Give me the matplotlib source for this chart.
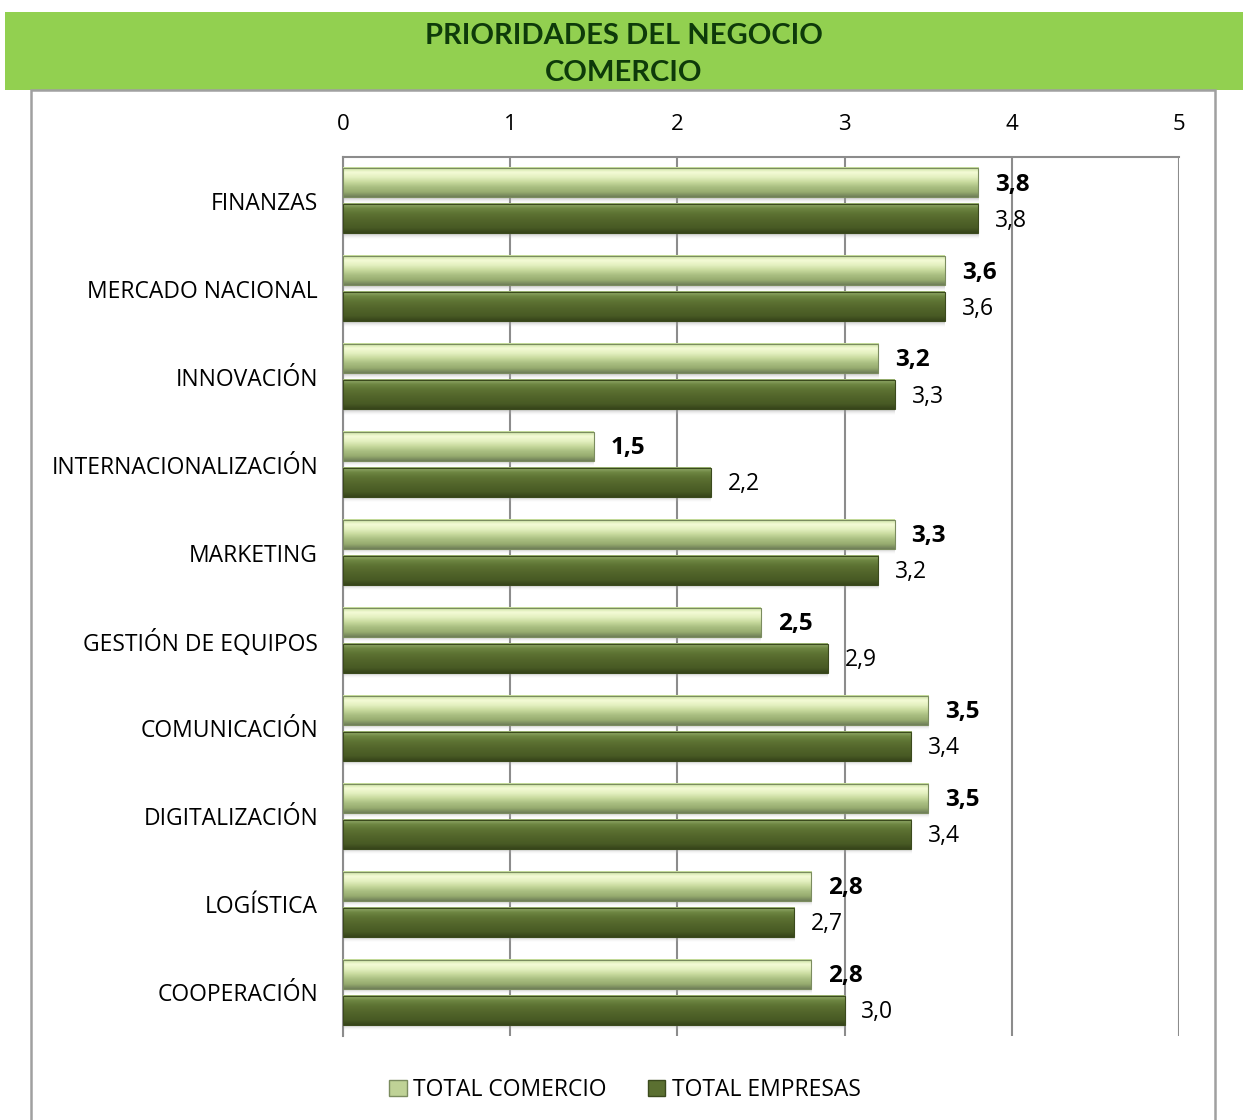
import matplotlib.pyplot as plt
import matplotlib.patches as mpatches
from matplotlib.colors import LinearSegmentedColormap
import numpy as np

categorias = ['FINANZAS', 'MERCADO NACIONAL', 'INNOVACIÓN', 'INTERNACIONALIZACIÓN',
              'MARKETING', 'GESTIÓN DE EQUIPOS', 'COMUNICACIÓN', 'DIGITALIZACIÓN',
              'LOGÍSTICA', 'COOPERACIÓN']
total_comercio = [3.8, 3.6, 3.2, 1.5, 3.3, 2.5, 3.5, 3.5, 2.8, 2.8]
total_empresas = [3.8, 3.6, 3.3, 2.2, 3.2, 2.9, 3.4, 3.4, 2.7, 3.0]
series = ['TOTAL COMERCIO', 'TOTAL EMPRESAS']

plt.rcParams['font.family'] = ['Open Sans', 'DejaVu Sans']

# degradados verticales de las barras (de arriba a abajo)
cmap_claro = LinearSegmentedColormap.from_list(
    'claro', ['#c4dc98', '#f4fbd6', '#e4f0c0', '#c8da9e', '#aabf82', '#98ad70', '#6f7f58'])
cmap_oscuro = LinearSegmentedColormap.from_list(
    'oscuro', ['#9cb474', '#6e8642', '#5e7434', '#56692d', '#4e6128', '#485a24', '#36441a'])
cmap_sombra = LinearSegmentedColormap.from_list(
    'sombra', [(0.55, 0.55, 0.55, 0.55), (0.8, 0.8, 0.8, 0.0)])

fig = plt.figure(figsize=(12.43, 11.2), dpi=100)

# banda del titulo y marco del grafico
fig.patches.append(mpatches.Rectangle((5 / 1243, 1 - 90 / 1120), 1, 78 / 1120,
                                      transform=fig.transFigure, facecolor='#92d050',
                                      edgecolor='none', zorder=-2))
fig.patches.append(mpatches.Rectangle((31 / 1243, -0.05), (1215 - 31) / 1243, 1.05 - 90 / 1120,
                                      transform=fig.transFigure, facecolor='white',
                                      edgecolor='#a0a0a0', linewidth=1.8, zorder=-1))
fig.text(0.502, 1 - 36 / 1120, 'PRIORIDADES DEL NEGOCIO', ha='center', va='center',
         fontsize=21, fontweight='bold', color='#0e3a0a', family=['Lato', 'DejaVu Sans'])
fig.text(0.502, 1 - 73 / 1120, 'COMERCIO', ha='center', va='center',
         fontsize=21, fontweight='bold', color='#0e3a0a', family=['Lato', 'DejaVu Sans'])

ax = fig.add_axes([343 / 1243, 1 - 1036 / 1120, (1179 - 343) / 1243, (1036 - 157) / 1120])
ax.set_facecolor('none')

h = 0.33
off = 0.205
sombra = 0.06
grad = np.linspace(0, 1, 64).reshape(-1, 1)
y = np.arange(len(categorias))

for i, (vc, ve) in enumerate(zip(total_comercio, total_empresas)):
    for v, yc, cmap, peso, tam in [(vc, i - off, cmap_claro, 'bold', 17.5),
                                   (ve, i + off, cmap_oscuro, 'normal', 16.5)]:
        ax.imshow(grad, extent=[0, v, yc + h / 2 + sombra, yc + h / 2], aspect='auto',
                  cmap=cmap_sombra, zorder=2, interpolation='bilinear')
        ax.imshow(grad, extent=[0, v, yc + h / 2, yc - h / 2], aspect='auto',
                  cmap=cmap, zorder=3, interpolation='bilinear')
        ax.add_patch(mpatches.Rectangle((0, yc - h / 2), v, h, facecolor='none',
                                        edgecolor=cmap(0.95), linewidth=0.8, zorder=4))
        ax.text(v + 0.1, yc + 0.02, f'{v:.1f}'.replace('.', ','), va='center', ha='left',
                fontsize=tam, fontweight=peso, color='black', zorder=5)

ax.set_xlim(0, 5)
ax.set_ylim(len(categorias) - 0.5, -0.5)
ax.set_xticks(range(6))
ax.set_yticks(y)
ax.set_yticklabels(categorias, fontsize=16.5)
ax.xaxis.tick_top()
ax.tick_params(axis='x', length=0, pad=16, labelsize=16)
ax.tick_params(axis='y', length=0, pad=18)
ax.grid(axis='x', color='#8c8c8c', linewidth=1.5, zorder=1)
ax.set_axisbelow(True)
for lado in ['bottom', 'right']:
    ax.spines[lado].set_visible(False)
for lado in ['left', 'top']:
    ax.spines[lado].set_color('#8c8c8c')
    ax.spines[lado].set_linewidth(1.5)

recs = [mpatches.Rectangle((0, 0), 1, 1, facecolor=cmap_claro(0.55), edgecolor=cmap_claro(0.95)),
        mpatches.Rectangle((0, 0), 1, 1, facecolor=cmap_oscuro(0.4), edgecolor=cmap_oscuro(0.95))]
fig.legend(recs, series, loc='center', bbox_to_anchor=(0.503, 1 - 1090 / 1120), ncol=2,
           frameon=False, fontsize=16.5, handlelength=0.75, handleheight=0.75,
           handletextpad=0.3, columnspacing=1.8)

fig.savefig('out.png', dpi=100)
